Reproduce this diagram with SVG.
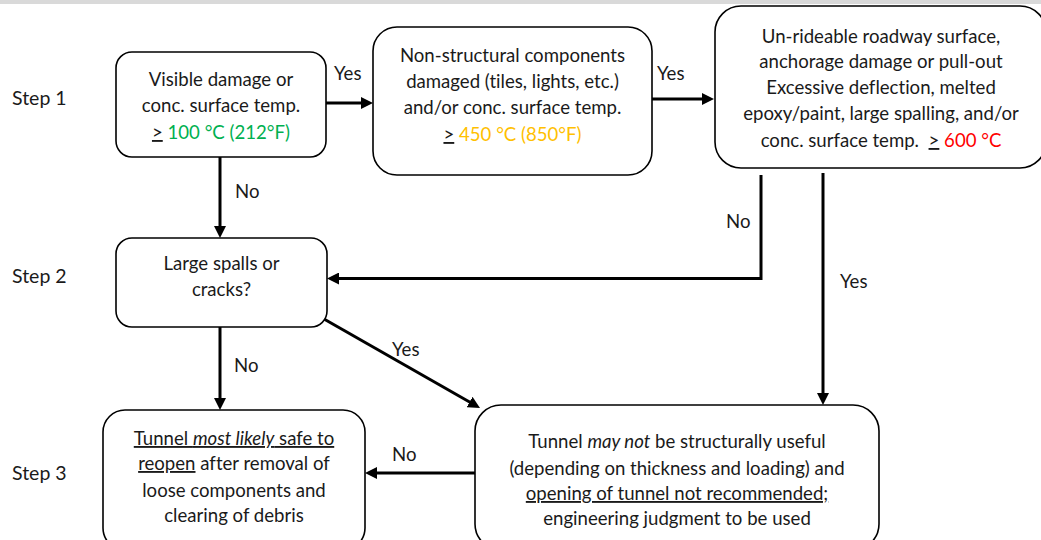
<svg xmlns="http://www.w3.org/2000/svg" width="1041" height="540" viewBox="0 0 1041 540">
  <style>
    text { font-family: Lato, "Open Sans", "Liberation Sans", sans-serif; font-size: 18.6px; fill: #1a1a1a; font-variant-ligatures: none; }
    .c { text-anchor: middle; }
    .step { font-size: 19.5px; }
    .box { fill: #ffffff; stroke: #000000; stroke-width: 1.6; }
    .arrow { fill: none; stroke: #000000; stroke-width: 3; marker-end: url(#head); }
    .u { text-decoration: underline; text-decoration-skip-ink: none; }
    .i { font-style: italic; }
    .green { fill: #00b050; }
    .orange { fill: #ffc000; }
    .red { fill: #ff0000; }
  </style>
  <defs>
    <marker id="head" viewBox="0 0 12 12" markerWidth="12" markerHeight="12" markerUnits="userSpaceOnUse" refX="2" refY="6" orient="auto">
      <path d="M0,0 L12,6 L0,12 z" fill="#000000"/>
    </marker>
  </defs>

  <!-- page band along the top edge -->
  <rect x="0" y="0" width="1041" height="4" fill="#d9d9d9"/>

  <!-- step labels -->
  <g id="steps">
    <text class="step" x="12" y="105">Step 1</text>
    <text class="step" x="12" y="283">Step 2</text>
    <text class="step" x="12" y="480">Step 3</text>
  </g>

  <!-- connectors -->
  <g id="connectors">
    <line class="arrow" x1="326" y1="103" x2="363" y2="103"/>
    <line class="arrow" x1="652" y1="99" x2="704" y2="99"/>
    <line class="arrow" x1="220" y1="157" x2="220" y2="228"/>
    <polyline class="arrow" points="761,175 761,278.5 337,278.5"/>
    <line class="arrow" x1="823" y1="173" x2="823" y2="395"/>
    <line class="arrow" x1="220" y1="327" x2="220" y2="400"/>
    <line class="arrow" x1="324" y1="319" x2="471.3" y2="403"/>
    <line class="arrow" x1="475" y1="473" x2="375" y2="473"/>
    <text x="334" y="80">Yes</text>
    <text x="657" y="80">Yes</text>
    <text x="235" y="198">No</text>
    <text x="726" y="228">No</text>
    <text x="840" y="288">Yes</text>
    <text x="234" y="372">No</text>
    <text x="392" y="356">Yes</text>
    <text x="392" y="461">No</text>
  </g>

  <!-- step 1: visible damage check -->
  <g id="n-visible">
    <rect class="box" x="116" y="52" width="210" height="105" rx="16"/>
    <text class="c" x="221" y="86">Visible damage or</text>
    <text class="c" x="221" y="112">conc. surface temp.</text>
    <text class="c" x="221" y="139"><tspan class="u">&gt;</tspan> <tspan class="green">100 °C (212°F)</tspan></text>
  </g>

  <!-- step 1: non-structural components -->
  <g id="n-nonstructural">
    <rect class="box" x="373" y="27" width="279" height="148" rx="24"/>
    <text class="c" x="512.5" y="62">Non-structural components</text>
    <text class="c" x="512.5" y="88">damaged (tiles, lights, etc.)</text>
    <text class="c" x="512.5" y="114">and/or conc. surface temp.</text>
    <text class="c" x="512.5" y="141"><tspan class="u">&gt;</tspan> <tspan class="orange">450 °C (850°F)</tspan></text>
  </g>

  <!-- step 1: severe damage -->
  <g id="n-severe">
    <rect class="box" x="715" y="6" width="331" height="162" rx="26"/>
    <text class="c" x="881" y="43">Un-rideable roadway surface,</text>
    <text class="c" x="881" y="68">anchorage damage or pull-out</text>
    <text class="c" x="881" y="94">Excessive deflection, melted</text>
    <text class="c" x="881" y="120">epoxy/paint, large spalling, and/or</text>
    <text class="c" x="881" y="147" xml:space="preserve">conc. surface temp.  <tspan class="u">&gt;</tspan> <tspan class="red">600 °C</tspan></text>
  </g>

  <!-- step 2: spalls or cracks -->
  <g id="n-spalls">
    <rect class="box" x="116" y="238" width="211" height="89" rx="16"/>
    <text class="c" x="221.5" y="270">Large spalls or</text>
    <text class="c" x="221.5" y="296">cracks?</text>
  </g>

  <!-- step 3: safe to reopen -->
  <g id="n-reopen">
    <rect class="box" x="103" y="410" width="262" height="140" rx="22"/>
    <text class="c" x="234" y="445"><tspan class="u">Tunnel <tspan class="i">most likely</tspan> safe to</tspan></text>
    <text class="c" x="234" y="470"><tspan class="u">reopen</tspan> after removal of</text>
    <text class="c" x="234" y="497">loose components and</text>
    <text class="c" x="234" y="522">clearing of debris</text>
  </g>

  <!-- step 3: not recommended -->
  <g id="n-not-recommended">
    <rect class="box" x="475" y="405" width="404" height="145" rx="26"/>
    <text class="c" x="677" y="448">Tunnel <tspan class="i">may not</tspan> be structurally useful</text>
    <text class="c" x="677" y="475">(depending on thickness and loading) and</text>
    <text class="c" x="677" y="500"><tspan class="u">opening of tunnel not recommended;</tspan></text>
    <text class="c" x="677" y="525">engineering judgment to be used</text>
  </g>
</svg>
